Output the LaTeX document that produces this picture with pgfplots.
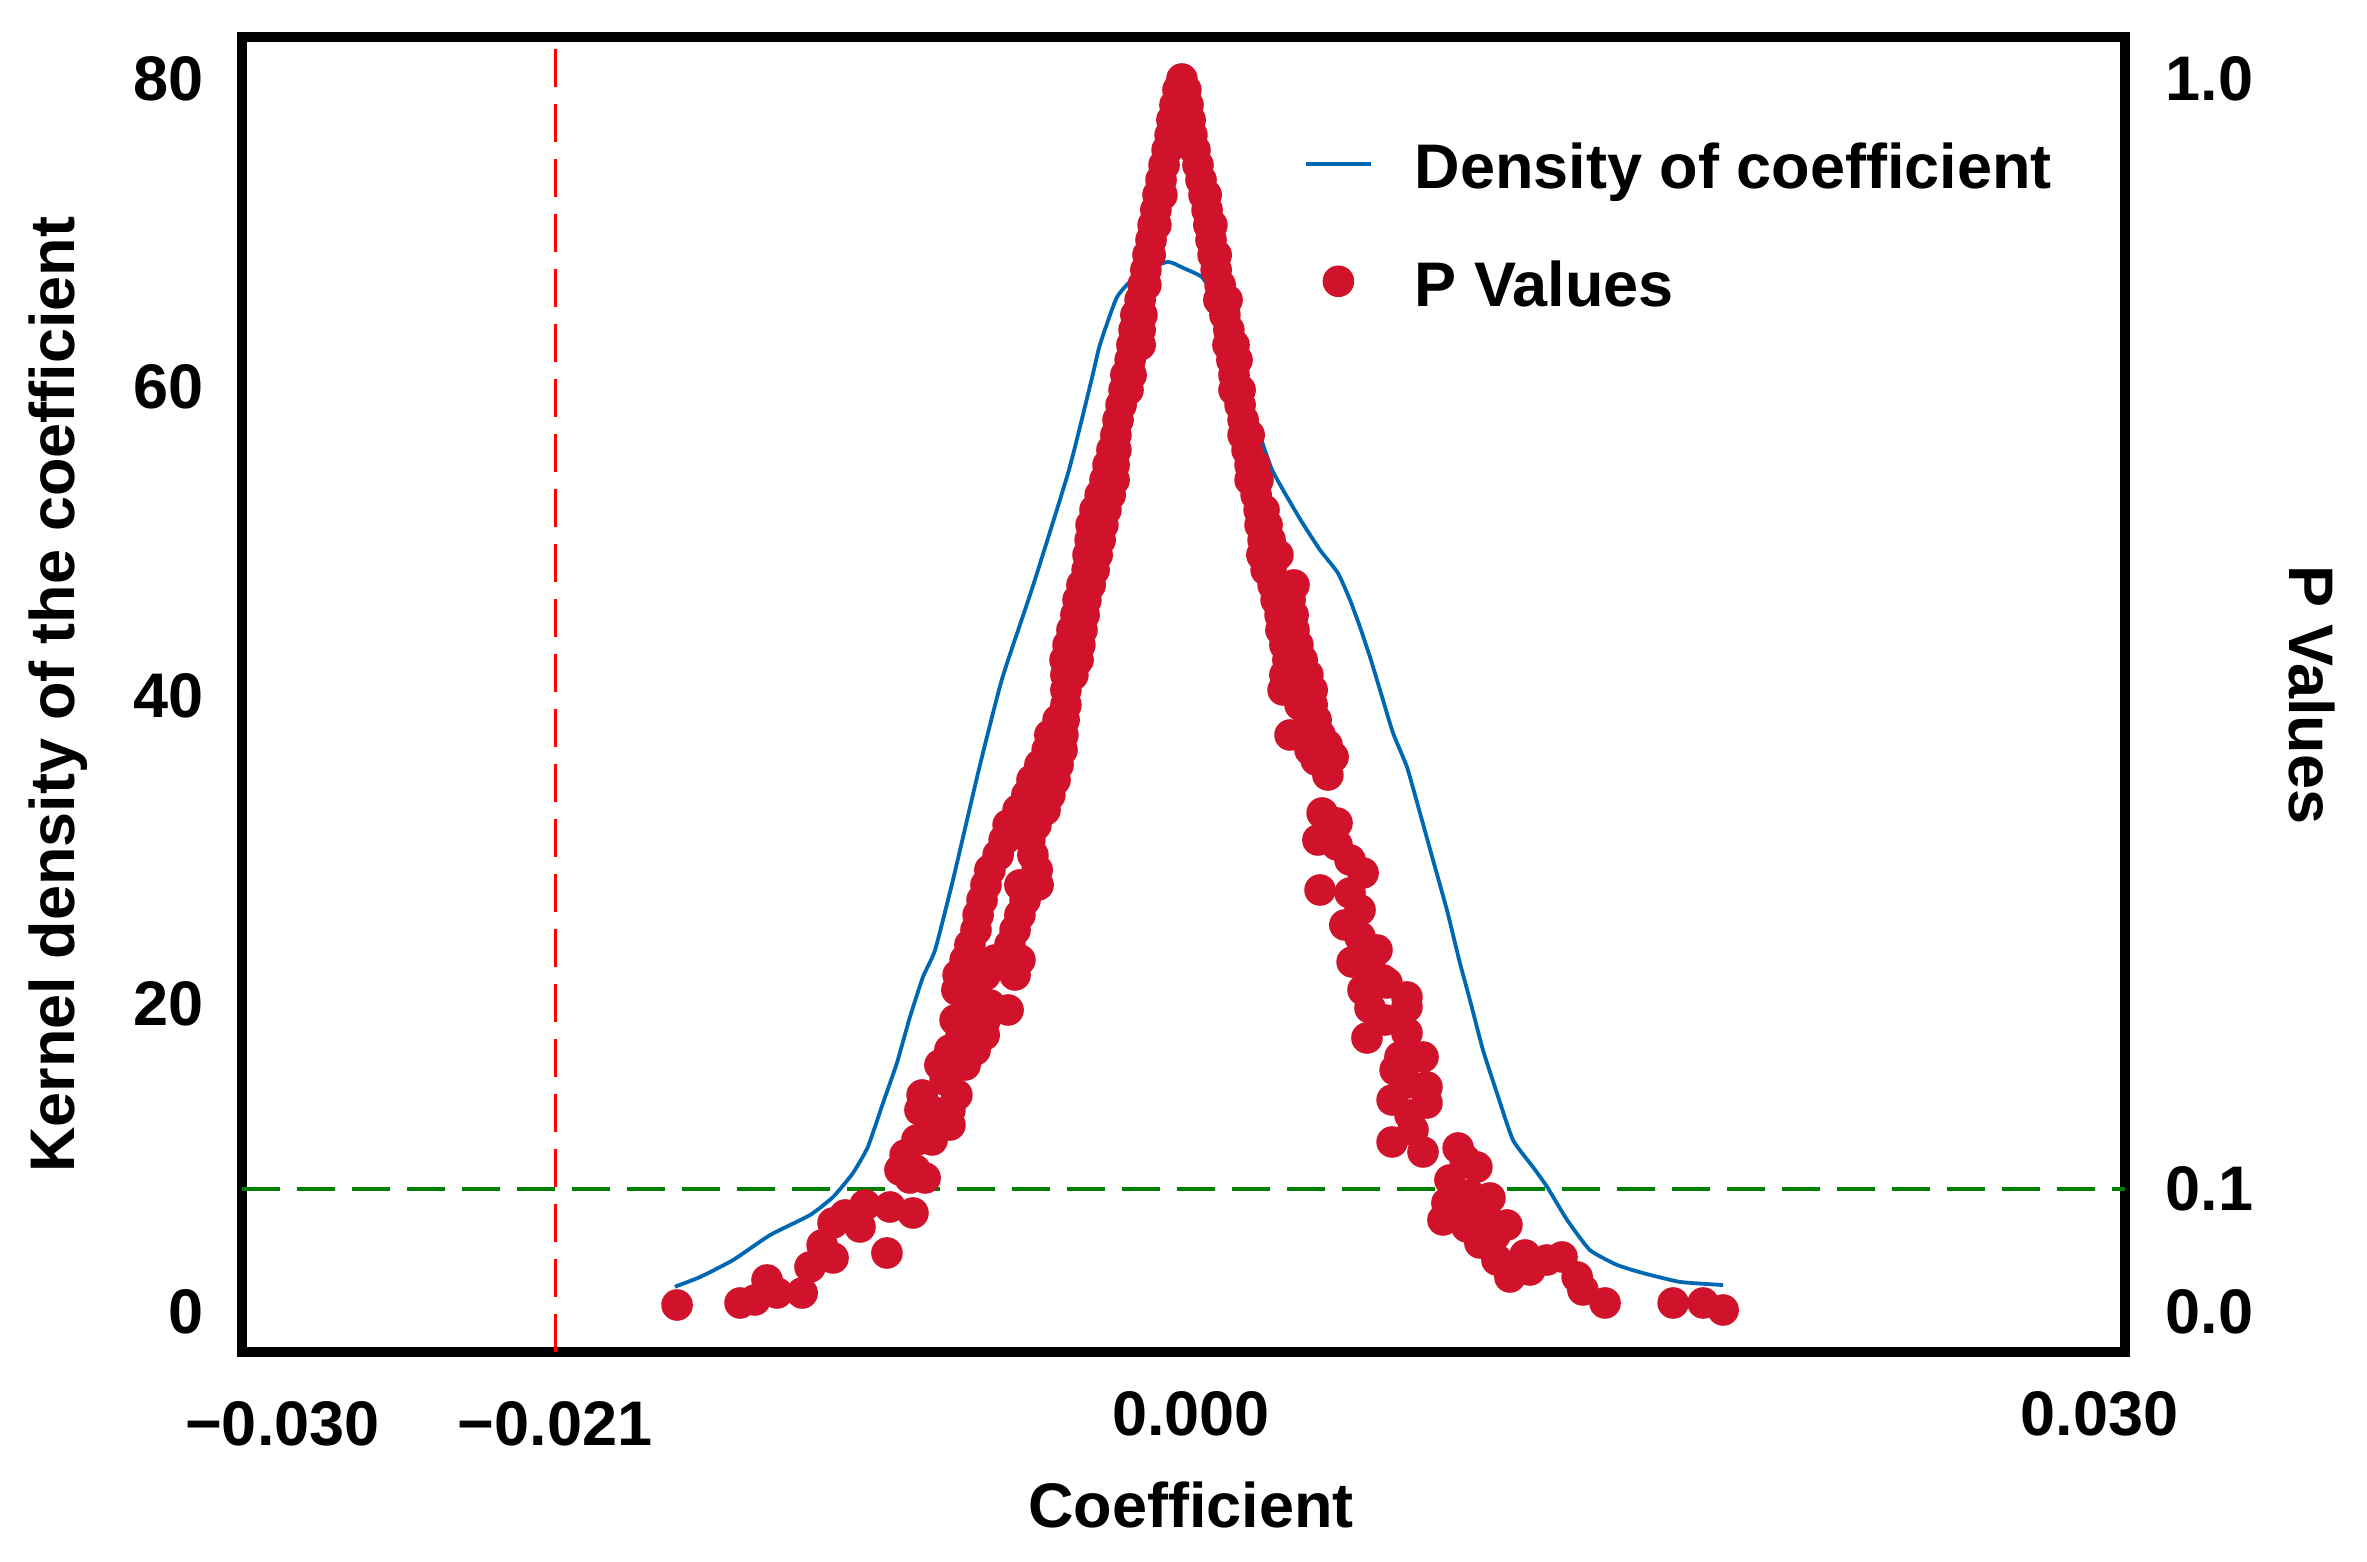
\documentclass[border=0pt]{standalone}
\usepackage{fontspec}
\setmainfont{Liberation Sans}
\usepackage{pgfplots}
\pgfplotsset{compat=1.18}
\definecolor{dotred}{RGB}{208,18,43}
\definecolor{curveblue}{RGB}{0,103,178}
\definecolor{refgreen}{RGB}{0,128,0}
\newcommand{\lab}{\fontsize{15.75pt}{18pt}\selectfont\bfseries}
\pgfplotsset{
  lineimg/.style={legend image code/.code={\draw[##1] (0pt,6.25pt) -- (16.25pt,6.25pt);}},
  dotimg/.style={legend image code/.code={\path[draw=none,fill=none] (0pt,0pt) rectangle (16.25pt,0.1pt); \draw[##1] plot coordinates {(8.125pt,6.4pt)};}},
}
\begin{document}
\begin{tikzpicture}
\path[use as bounding box] (0,0) rectangle (591.75pt,390.5pt);
\begin{axis}[
  at={(60.5pt,52.5pt)}, anchor=south west,
  width=470.75pt, height=328.625pt, scale only axis,
  xmin=-0.031335, xmax=0.030839,
  ymin=-2.595, ymax=82.692,
  axis line style={line width=2.5pt, line cap=rect},
  major tick length=0pt,
  scaled x ticks=false, scaled y ticks=false,
  xtick={-0.03,-0.021,0,0.03},
  xticklabels={\raisebox{-2.5pt}{−0.030},\raisebox{-2.5pt}{−0.021},0.000,0.030},
  xticklabel style={anchor=north, inner sep=0pt, yshift=-9.5pt, text height=11.3pt, font=\lab},
  ytick={0,20,40,60,80},
  yticklabels={0,20,40,60,80},
  yticklabel style={anchor=east, inner sep=0pt, xshift=-9.5pt, font=\lab},
  xlabel={Coefficient},
  xlabel style={at={(axis description cs:0.504,0)}, anchor=base, yshift=-44pt, font=\lab, inner sep=0pt},
  ylabel={Kernel density of the coefficient},
  ylabel style={at={(axis description cs:-0.0892,0.5)}, anchor=base, font=\lab, inner sep=0pt},
]
\addplot[refgreen, line width=1pt, dash pattern=on 9.5pt off 4.25pt] coordinates {(-0.031335,8) (0.030839,8)};
\addplot[red, line width=0.75pt, dash pattern=on 9.5pt off 4.25pt] coordinates {(-0.021,-2.595) (-0.021,82.692)};
\addplot[curveblue, line width=0.95pt, smooth, tension=0.3] table {
-0.01704 1.64
-0.01621 2.27
-0.01512 3.37
-0.01390 4.99
-0.01258 6.29
-0.01182 7.46
-0.01116 9.02
-0.01067 10.71
-0.01017 13.56
-0.00971 16.16
-0.00928 19.14
-0.00885 21.74
-0.00845 23.49
-0.00786 28.03
-0.00700 35.23
-0.00624 41.07
-0.00522 47.10
-0.00403 54.63
-0.00327 60.60
-0.00301 62.74
-0.00244 65.86
-0.00168 67.48
-0.00076 68.13
-0.00026 67.74
0.00036 67.15
0.00073 65.99
0.00112 64.36
0.00162 61.12
0.00211 57.87
0.00268 54.63
0.00360 51.45
0.00426 49.44
0.00485 47.95
0.00525 46.20
0.00558 44.44
0.00591 42.50
0.00624 40.36
0.00667 37.57
0.00713 35.36
0.00756 32.38
0.00799 29.33
0.00845 26.08
0.00888 22.64
0.00921 20.24
0.00964 17.00
0.01010 14.21
0.01063 11.16
0.01129 9.41
0.01176 8.11
0.01242 5.97
0.01317 4.02
0.01407 3.05
0.01492 2.53
0.01615 1.95
0.01757 1.75
};
\end{axis}
\begin{axis}[
  at={(60.5pt,52.5pt)}, anchor=south west,
  width=470.75pt, height=328.625pt, scale only axis,
  xmin=-0.031335, xmax=0.030839,
  ymin=-0.032441, ymax=1.03366,
  hide x axis,
  axis y line*=right,
  axis line style={draw=none},
  major tick length=0pt,
  scaled y ticks=false,
  ytick={0,0.1,1},
  yticklabels={0.0,0.1,1.0},
  yticklabel style={anchor=west, inner sep=0pt, xshift=10pt, font=\lab},
  ylabel={P Values},
  ylabel style={at={(axis description cs:1.0871,0.5)}, rotate=180, anchor=base, font=\lab, inner sep=0pt},
  legend style={at={(axis description cs:0.564,0.9192)}, anchor=north west, draw=none, fill=none,
    inner sep=0pt, outer sep=0pt, row sep=14.9pt, column sep=10.5pt, font=\lab,
    nodes={inner sep=0pt, text height=11.3pt, text depth=3.3pt},
    cells={anchor=base west}},
]
\addlegendimage{curveblue, line width=0.95pt, lineimg}
\addlegendentry{Density of coefficient}
\addplot[only marks, mark=*, mark size=3.75pt, color=dotred, dotimg] table {
-0.00030 1.0000
-0.00043 0.99108
-0.00017 0.99108
-0.00053 0.97891
-0.00010 0.97891
-0.00063 0.96675
-0.00003 0.96675
-0.00069 0.95458
0.00003 0.95458
-0.00079 0.94242
0.00013 0.94242
-0.00089 0.93025
-0.00099 0.91809
-0.00109 0.90592
-0.00096 0.90592
-0.00116 0.89376
-0.00125 0.88159
-0.00116 0.88159
-0.00132 0.86942
-0.00142 0.85726
-0.00135 0.85726
-0.00149 0.84509
-0.00158 0.83293
-0.00149 0.83293
-0.00168 0.82076
-0.00182 0.80860
-0.00162 0.80860
-0.00188 0.79643
-0.00168 0.79643
-0.00195 0.78427
-0.00168 0.78427
-0.00201 0.77210
-0.00215 0.75994
-0.00198 0.75994
-0.00221 0.74777
-0.00208 0.74777
-0.00231 0.73560
-0.00241 0.72344
-0.00248 0.71127
-0.00261 0.69911
-0.00248 0.69911
-0.00274 0.68694
-0.00254 0.68694
-0.00284 0.67478
-0.00254 0.67478
-0.00300 0.66261
-0.00267 0.66261
-0.00317 0.65045
-0.00281 0.65045
-0.00330 0.63828
-0.00291 0.63828
-0.00333 0.62612
-0.00300 0.62612
-0.00340 0.61395
-0.00310 0.61395
-0.00343 0.60178
-0.00320 0.60178
-0.00360 0.58962
-0.00333 0.58962
-0.00373 0.57745
-0.00347 0.57745
-0.00380 0.56529
-0.00353 0.56529
-0.00393 0.55312
-0.00360 0.55312
-0.00406 0.54096
-0.00367 0.54096
-0.00416 0.52879
-0.00373 0.52879
-0.00413 0.51663
-0.00390 0.51663
-0.00413 0.50446
-0.00413 0.49230
-0.00439 0.48013
-0.00419 0.48013
-0.00466 0.46796
-0.00423 0.46796
-0.00475 0.45580
-0.00426 0.45580
-0.00499 0.44363
-0.00439 0.44363
-0.00525 0.43147
-0.00449 0.43147
-0.00542 0.41930
-0.00466 0.41930
-0.00571 0.40714
-0.00482 0.40714
-0.00604 0.39497
-0.00512 0.39497
-0.00617 0.38281
-0.00532 0.38281
-0.00637 0.37064
-0.00522 0.37064
-0.00664 0.35848
-0.00508 0.35848
-0.00677 0.34631
-0.00565 0.34631
-0.00505 0.34631
-0.00690 0.33414
-0.00548 0.33414
-0.00703 0.32198
-0.00565 0.32198
-0.00710 0.30981
-0.00581 0.30981
-0.00730 0.29765
-0.00598 0.29765
-0.00746 0.28548
-0.00647 0.28548
-0.00565 0.28548
-0.00769 0.27332
-0.00680 0.27332
-0.00581 0.27332
-0.00773 0.26115
-0.00713 0.26115
-0.00736 0.24899
-0.00664 0.24899
-0.00604 0.24493
-0.00779 0.23682
-0.00680 0.23682
-0.00759 0.22466
-0.00683 0.22466
-0.00796 0.21249
-0.00713 0.21249
-0.00829 0.20032
-0.00746 0.20032
-0.00812 0.18816
-0.00888 0.17599
-0.00773 0.17599
-0.00862 0.16383
-0.00796 0.16383
-0.00895 0.16383
-0.00796 0.15166
-0.00845 0.15166
-0.00855 0.13950
-0.00905 0.13950
-0.00944 0.12733
-0.00961 0.11517
-0.00911 0.11517
-0.00928 0.10868
-0.00878 0.10868
-0.01076 0.08678
-0.00994 0.08516
-0.00918 0.08029
-0.01142 0.07867
-0.01182 0.07218
-0.01093 0.06894
-0.01218 0.05434
-0.01004 0.04785
-0.01182 0.04380
-0.01258 0.03650
-0.01400 0.02595
-0.01284 0.01541
-0.01367 0.01541
-0.01440 0.00973
-0.01489 0.00730
-0.01697 0.00568
0.00023 0.93025
0.00033 0.91809
0.00043 0.90592
0.00050 0.90592
0.00053 0.89376
0.00059 0.88159
0.00069 0.88159
0.00066 0.86942
0.00073 0.85726
0.00083 0.85726
0.00083 0.84509
0.00096 0.83293
0.00092 0.82076
0.00119 0.82076
0.00112 0.80860
0.00125 0.79643
0.00122 0.78427
0.00142 0.78427
0.00135 0.77210
0.00152 0.77210
0.00142 0.75994
0.00142 0.74777
0.00162 0.74777
0.00162 0.73560
0.00172 0.72344
0.00172 0.71127
0.00192 0.71127
0.00185 0.69911
0.00195 0.68694
0.00211 0.68694
0.00195 0.67478
0.00221 0.67478
0.00215 0.66261
0.00225 0.65045
0.00241 0.65045
0.00228 0.63828
0.00251 0.63828
0.00238 0.62612
0.00261 0.62612
0.00234 0.61395
0.00287 0.61395
0.00248 0.60178
0.00264 0.60178
0.00271 0.58962
0.00340 0.58962
0.00281 0.57745
0.00327 0.57745
0.00294 0.56529
0.00337 0.56529
0.00297 0.55312
0.00340 0.55312
0.00310 0.54096
0.00353 0.54096
0.00320 0.52879
0.00367 0.52879
0.00310 0.51663
0.00386 0.51663
0.00304 0.50446
0.00400 0.50446
0.00360 0.49230
0.00400 0.49230
0.00390 0.48013
0.00413 0.48013
0.00327 0.46796
0.00426 0.46796
0.00393 0.45580
0.00449 0.45985
0.00413 0.44769
0.00469 0.45012
0.00452 0.43552
0.00433 0.40470
0.00482 0.39659
0.00419 0.38281
0.00482 0.37875
0.00525 0.36659
0.00568 0.35604
0.00426 0.34225
0.00525 0.33982
0.00558 0.32603
0.00508 0.31387
0.00558 0.30414
0.00614 0.29359
0.00532 0.28386
0.00634 0.26926
0.00568 0.26115
0.00713 0.25547
0.00591 0.28548
0.00647 0.26683
0.00591 0.24655
0.00713 0.24736
0.00641 0.23682
0.00581 0.22222
0.00713 0.22628
0.00690 0.20681
0.00766 0.20681
0.00674 0.19627
0.00713 0.18573
0.00779 0.18248
0.00664 0.17194
0.00779 0.16951
0.00723 0.15977
0.00733 0.14761
0.00664 0.13788
0.00766 0.12976
0.00882 0.13301
0.00944 0.11760
0.00905 0.12328
0.00855 0.10706
0.00921 0.09489
0.00987 0.09246
0.00845 0.08840
0.00888 0.08678
0.00832 0.07461
0.00911 0.06894
0.00971 0.07867
0.01043 0.07056
0.00954 0.05596
0.01004 0.06245
0.01010 0.04217
0.01053 0.02839
0.01103 0.04623
0.01119 0.03406
0.01175 0.04217
0.01225 0.04461
0.01275 0.02839
0.01294 0.01784
0.01367 0.00730
0.01592 0.00730
0.01691 0.00730
0.01757 0.00162
};
\addlegendentry{P Values}
\end{axis}
\end{tikzpicture}
\end{document}
